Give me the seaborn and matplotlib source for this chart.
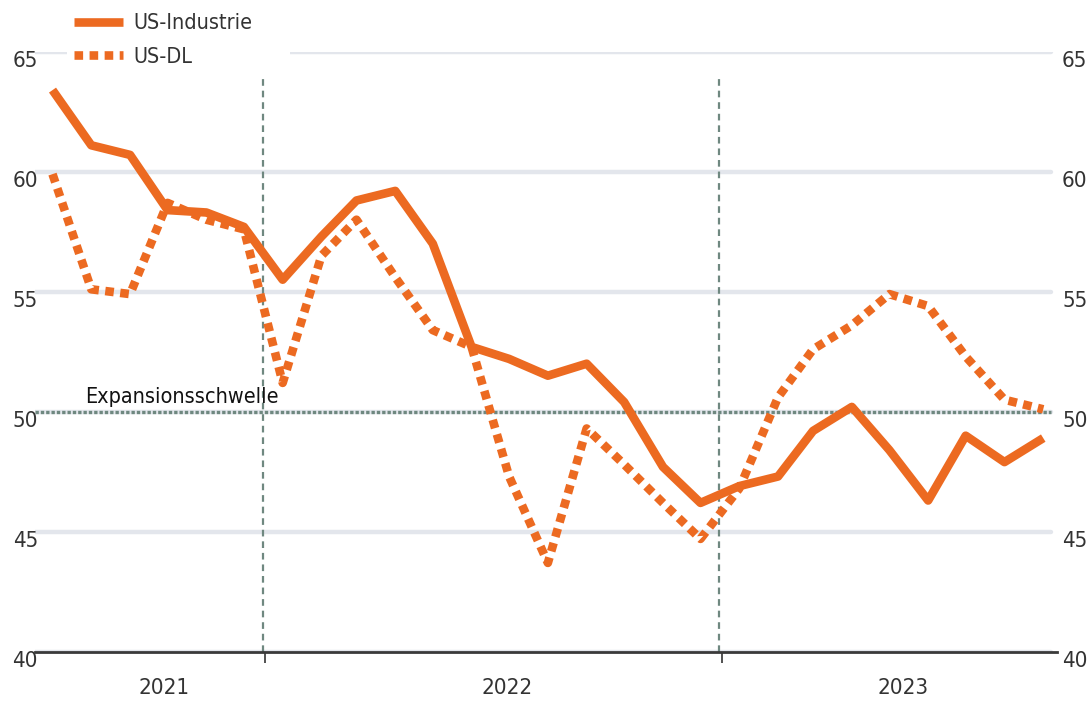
import matplotlib
matplotlib.use('Agg')
import matplotlib.pyplot as plt
import matplotlib.transforms as mtransforms
from matplotlib.patches import Rectangle
import seaborn as sns
import pandas as pd

# monthly values, Jul 2021 - Sep 2023
months = pd.date_range('2021-07-01', '2023-09-01', freq='MS') + pd.Timedelta(days=14)
us_industrie = [63.4, 61.1, 60.7, 58.4, 58.3, 57.7, 55.5, 57.3, 58.8, 59.2, 57.0, 52.7,
                52.2, 51.5, 52.0, 50.4, 47.7, 46.2, 46.9, 47.3, 49.2, 50.2, 48.4, 46.3,
                49.0, 47.9, 48.9]
us_dl = [59.9, 55.1, 54.9, 58.7, 58.0, 57.6, 51.2, 56.5, 58.0, 55.6, 53.4, 52.7,
         47.3, 43.7, 49.3, 47.8, 46.2, 44.7, 46.8, 50.6, 52.6, 53.6, 54.9, 54.4,
         52.3, 50.5, 50.1]
series_names = ['US-Industrie', 'US-DL']
y_ticks = [40, 45, 50, 55, 60, 65]
year_labels = ['2021', '2022', '2023']
year_label_pos = pd.to_datetime(['2021-10-12', '2022-07-13', '2023-05-26'])
year_bounds = pd.to_datetime(['2022-01-01', '2023-01-01'])
threshold = 50
threshold_label = 'Expansionsschwelle'

ORANGE = '#EC6A21'
REFGREY = '#6F8880'
GRID = '#E3E6EC'
TEXT = '#333333'
FONT = ['DejaVu Sans']


def main():
    df = pd.DataFrame({'date': months, series_names[0]: us_industrie, series_names[1]: us_dl})
    df = df.melt(id_vars='date', var_name='series', value_name='value')

    sns.set_style('white')
    plt.rcParams['font.family'] = FONT
    plt.rcParams['font.stretch'] = 'condensed'

    fig = plt.figure(figsize=(10.89, 7.01), dpi=100)
    ax = fig.add_axes([35 / 1089, 49.3 / 701, (1057 - 35) / 1089, 600 / 701])
    grid_end = (1051 - 35) / (1057 - 35)

    # grid lines
    for t in y_ticks:
        ax.axhline(t, xmax=grid_end, color=GRID, lw=3.2, zorder=0)

    # year boundaries and threshold
    ax.vlines(year_bounds - pd.Timedelta(days=2), 40, 64, color=REFGREY, lw=1.6,
              linestyles=(0, (3, 2.2)), zorder=1)
    ax.axhline(threshold, xmax=grid_end, color=REFGREY, lw=2.4,
               linestyle=(0, (1, 0.6)), zorder=1)
    ax.text(pd.Timestamp('2021-08-10'), threshold + 0.2, threshold_label,
            fontsize=15.5, color='#111111', ha='left', va='bottom', zorder=2)

    sns.lineplot(data=df, x='date', y='value', hue='series', style='series',
                 palette=[ORANGE, ORANGE],
                 dashes={series_names[0]: '', series_names[1]: (1.0, 0.75)},
                 linewidth=6.2, legend=False, ax=ax, zorder=3)
    for line in ax.get_lines():
        if line.get_linewidth() > 6:
            line.set_clip_on(False)
            line.set_solid_capstyle('butt')
            line.set_dash_capstyle('butt')

    ax.set_xlim(pd.Timestamp('2021-07-01'), pd.Timestamp('2023-09-26'))
    ax.set_ylim(40, 65)
    ax.set_xlabel('')
    ax.set_ylabel('')

    # y labels on both sides, drawn a little below the grid lines
    ax.set_yticks([])
    down = mtransforms.ScaledTranslation(0, -9 / 100, fig.dpi_scale_trans)
    ytrans = mtransforms.blended_transform_factory(ax.transAxes, ax.transData) + down
    for t in y_ticks:
        ax.text(3 / 1022, t, str(t), transform=ytrans, ha='right',
                va='center', fontsize=16, color=TEXT)
        ax.text(1 + 5 / 1022, t, str(t), transform=ytrans, ha='left',
                va='center', fontsize=16, color=TEXT)

    # x axis: ticks at year starts, labels centred between
    ax.set_xticks(year_bounds)
    ax.set_xticklabels(['', ''])
    ax.tick_params(axis='x', bottom=True, length=8, width=1.2, colors=TEXT, direction='out')
    trans = mtransforms.blended_transform_factory(ax.transData, ax.transAxes)
    for lab, pos in zip(year_labels, year_label_pos):
        ax.text(pos, -0.061, lab, transform=trans, ha='center', va='center',
                fontsize=16, color=TEXT)

    sns.despine(ax=ax, left=True, right=True, top=True)
    ax.spines['bottom'].set_color('#3A3A3A')
    ax.spines['bottom'].set_linewidth(2)
    ax.spines['bottom'].set_zorder(4)

    # white box behind the legend, breaking the top grid line
    fig.patches.append(Rectangle((67 / 1089, 1 - 72 / 701), 223 / 1089, 72 / 701,
                                 transform=fig.transFigure, facecolor='white',
                                 edgecolor='none', zorder=5))

    # legend
    handles = [plt.Line2D([], [], color=ORANGE, lw=6.2, solid_capstyle='butt'),
               plt.Line2D([], [], color=ORANGE, lw=6.2, linestyle=(0, (1.0, 0.75)),
                          dash_capstyle='butt')]
    leg = fig.legend(handles, series_names, loc='upper left',
                     bbox_to_anchor=(68 / 1089, 1 - 7 / 701), frameon=False,
                     fontsize=15.5, handlelength=2.25, handletextpad=0.5,
                     labelspacing=0.62, borderpad=0.3, borderaxespad=0)
    leg.set_zorder(6)
    for t in leg.get_texts():
        t.set_color(TEXT)

    fig.savefig('out.png', dpi=100)
    plt.close(fig)


if __name__ == '__main__':
    main()
